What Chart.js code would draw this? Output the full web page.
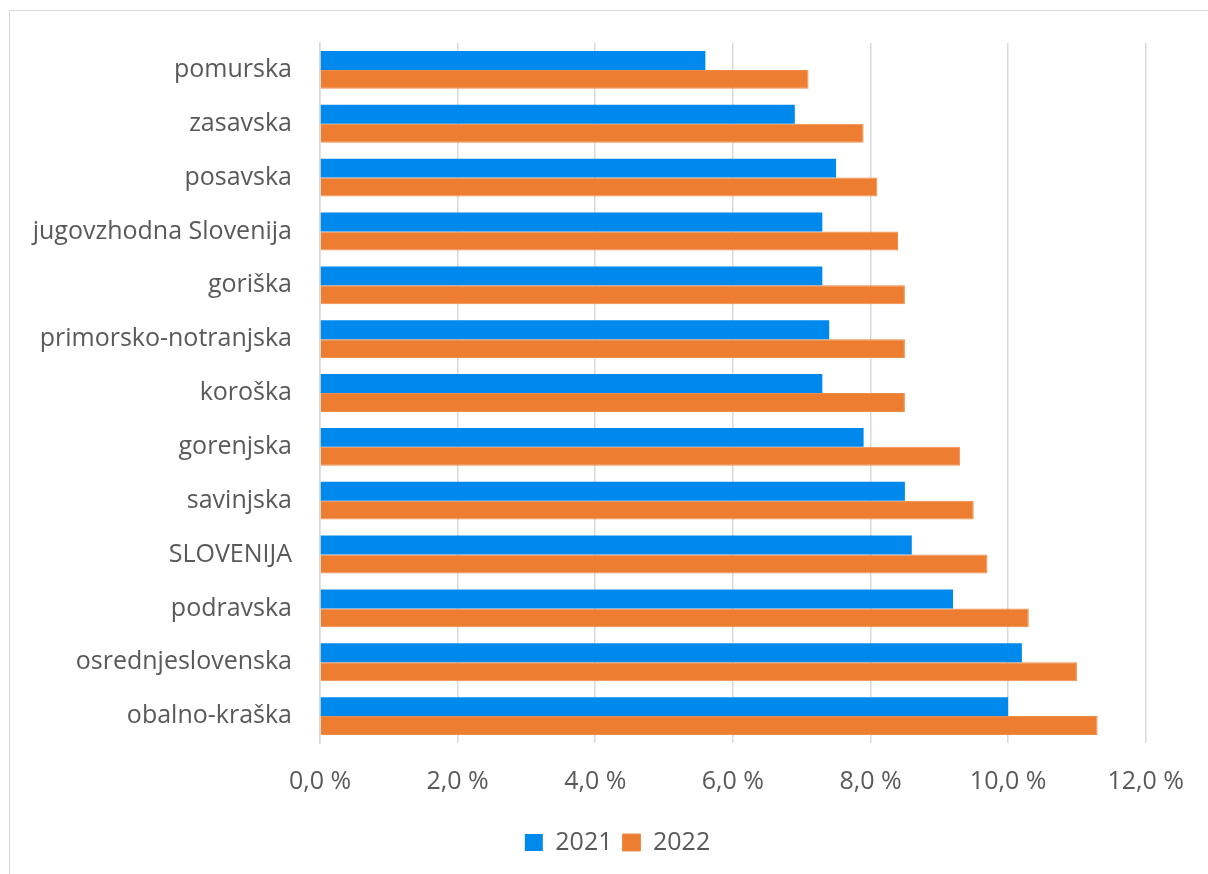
<!DOCTYPE html>
<html>
<head>
<meta charset="utf-8">
<script src="https://cdn.jsdelivr.net/npm/chart.js@4/dist/chart.umd.min.js"></script>
<style>
  html, body { margin: 0; padding: 0; background: #fff; overflow: hidden; }
  #frame { position: absolute; left: 9px; top: 10px; width: 1220px; height: 900px; border: 1px solid #d9d9d9; }
  #wrap { position: absolute; left: 0; top: 0; width: 1208px; height: 874px; }
</style>
</head>
<body>
<div id="frame"></div>
<div id="wrap"><canvas id="chartCanvas"></canvas></div>
<script>
// regions, top to bottom
const regions = [
  "pomurska", "zasavska", "posavska", "jugovzhodna Slovenija", "goriška",
  "primorsko-notranjska", "koroška", "gorenjska", "savinjska", "SLOVENIJA",
  "podravska", "osrednjeslovenska", "obalno-kraška"
];
const values2021 = [5.6, 6.9, 7.5, 7.3, 7.3, 7.4, 7.3, 7.9, 8.5, 8.6, 9.2, 10.2, 10.0];
const values2022 = [7.1, 7.9, 8.1, 8.4, 8.5, 8.5, 8.5, 9.3, 9.5, 9.7, 10.3, 11.0, 11.3];
const xTicks = [0, 2, 4, 6, 8, 10, 12];

const fontName = "Open Sans";
const textColor = "#595959";

// legend sits a bit right of the canvas centre in the original
const legendShift = {
  id: "legendShift",
  afterLayout(chart) {
    chart.legend.left += 38;
    chart.legend.right += 38;
  }
};

new Chart("chartCanvas", {
  type: "bar",
  data: {
    labels: regions,
    datasets: [
      {
        label: "2021",
        data: values2021,
        backgroundColor: "#0089ec",
        borderWidth: 0,
        categoryPercentage: 0.703,
        barPercentage: 1.0
      },
      {
        label: "2022",
        data: values2022,
        backgroundColor: "#ed7d31",
        borderColor: "#f08c4a",
        borderWidth: 1,
        categoryPercentage: 0.703,
        barPercentage: 1.0
      }
    ]
  },
  plugins: [legendShift],
  options: {
    indexAxis: "y",
    responsive: true,
    maintainAspectRatio: false,
    animation: false,
    layout: { padding: { left: 10, right: 59, top: 34, bottom: 9 } },
    plugins: {
      legend: {
        position: "bottom",
        labels: {
          color: textColor,
          font: { family: fontName, size: 25 },
          boxWidth: 18,
          boxHeight: 17,
          padding: 10
        }
      },
      tooltip: { enabled: false }
    },
    scales: {
      x: {
        min: 0,
        max: 12,
        afterBuildTicks: function (scale) {
          scale.ticks = xTicks.map(v => ({ value: v }));
        },
        afterFit: function (scale) { scale.height = 77; },
        grid: { color: "#d9d9d9", lineWidth: 1.5, drawTicks: false },
        border: { display: false },
        ticks: {
          color: textColor,
          padding: 24,
          font: { family: fontName, size: 25 },
          callback: function (v) { return v.toFixed(1).replace(".", ",") + " %"; }
        }
      },
      y: {
        afterFit: function (scale) { scale.width = 310; },
        grid: { display: false, drawTicks: false },
        border: { display: true, color: "#d9d9d9", width: 1.5 },
        ticks: {
          color: textColor,
          padding: 28,
          autoSkip: false,
          font: { family: fontName, size: 25 }
        }
      }
    }
  }
});
</script>
</body>
</html>
